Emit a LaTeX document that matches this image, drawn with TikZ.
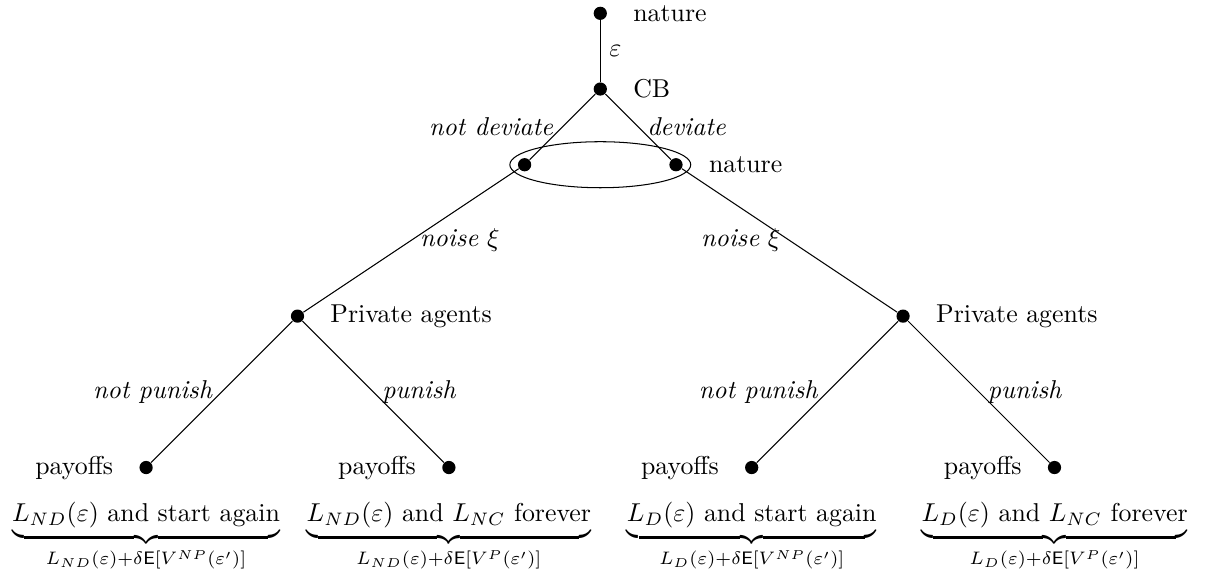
\documentclass[tikz,border=0pt]{standalone}
\usepackage{amsmath}
\usepackage{amssymb}
\usepackage{tikz}
\usetikzlibrary{positioning,shapes}

\begin{document}
\begin{tikzpicture}[scale=1.03, label distance=6.5pt,
	gnode/.style={circle,fill=black,inner sep=0pt,minimum size=1.8mm}]
	\useasboundingbox (-7.93,1.176) rectangle (8.107,-6.446);
	\node[gnode,label=right:nature] (top) at (0,1) {};
	\node[gnode,label=right:CB] (cb) at (0,0) {};
	\node[gnode] (nd) at (-1,-1) {};
	\node[gnode,label=right:nature] (d) at (1,-1) {};
	\node[gnode,label=right:Private agents] (pa1) at (-4,-3) {};
	\node[gnode,label=right:Private agents] (pa2) at (4,-3) {};
	\node[gnode,label=left:payoffs] (l1) at (-6,-5) {};
	\node[gnode,label=left:payoffs] (l2) at (-2,-5) {};
	\node[gnode,label=left:payoffs] (l3) at (2,-5) {};
	\node[gnode,label=left:payoffs] (l4) at (6,-5) {};
	\draw (0,-1) ellipse (1.195 and 0.304);
	\draw (top) -- node[right] {$\varepsilon$} (cb);
	\draw (cb) -- node[left] {\textit{not deviate}} (nd);
	\draw (cb) -- node[right] {\textit{deviate}} (d);
	\draw (nd) -- node[right] {\textit{noise} $\xi$} (pa1);
	\draw (d) -- node[left] {\textit{noise} $\xi$} (pa2);
	\draw (pa1) -- node[left] {\textit{not punish}} (l1);
	\draw (pa1) -- node[right] {\textit{punish}} (l2);
	\draw (pa2) -- node[left] {\textit{not punish}} (l3);
	\draw (pa2) -- node[right] {\textit{punish}} (l4);
	\node[below=2.5mm of l1] (p1) {$\underbrace{L_{ND}(\varepsilon)\text{ and start again}}_{L_{ND}(\varepsilon)+\delta\mathsf{E}[V^{NP}(\varepsilon')]}$};
	\node[below=2.5mm of l2] (p2) {$\underbrace{L_{ND}(\varepsilon)\text{ and }L_{NC}\text{ forever}}_{L_{ND}(\varepsilon)+\delta\mathsf{E}[V^{P}(\varepsilon')]}$};
	\node[below=2.5mm of l3] (p3) {$\underbrace{L_{D}(\varepsilon)\text{ and start again}}_{L_{D}(\varepsilon)+\delta\mathsf{E}[V^{NP}(\varepsilon')]}$};
	\node[below=2.5mm of l4] (p4) {$\underbrace{L_{D}(\varepsilon)\text{ and }L_{NC}\text{ forever}}_{L_{D}(\varepsilon)+\delta\mathsf{E}[V^{P}(\varepsilon')]}$};
\end{tikzpicture}
\end{document}
